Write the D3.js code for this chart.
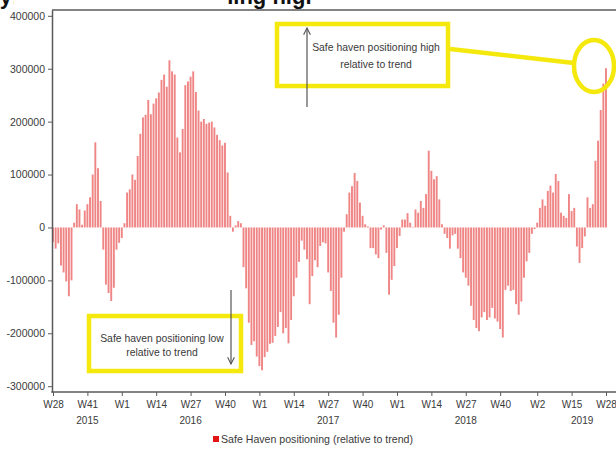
<!DOCTYPE html>
<html>
<head>
<meta charset="utf-8">
<script src="https://cdn.jsdelivr.net/npm/d3@7"></script>
<style>
  html, body { margin: 0; padding: 0; background: #fff; overflow: hidden; }
  svg { display: block; font-family: "Liberation Sans", Arial, sans-serif; }
</style>
</head>
<body>
<svg id="chart" width="616" height="450"></svg>
<script>
// weekly values, W28 2015 .. W28 2019
var values = [
  -28000, -40000, -30000, -72000, -85000, -102000, -130000, -100000,
  9000, 44000, 34000, 5000, 32000, 44000, 57000, 100000, 161000, 112000, 50000,
  -42000, -108000, -124000, -139000, -114000, -42000, -29000, -20000,
  8000, 66000, 72000, 100000, 90000, 135000, 177000, 208000, 213000, 241000,
  214000, 234000, 244000, 255000, 279000, 289000, 266000, 316000, 295000, 289000,
  170000, 142000, 186000, 269000, 276000, 285000, 295000, 256000, 221000, 200000,
  205000, 196000, 198000, 200000, 189000, 175000, 165000, 155000, 160000, 104000, 22000,
  -8000, 4000, 12000, 8000,
  -75000, -115000, -180000, -222000, -215000, -244000, -262000, -270000, -245000, -235000,
  -220000, -218000, -205000, -188000, -160000, -200000, -190000, -219000, -175000, -130000,
  -95000, -65000, -25000, -42000, -60000, -145000, -92000, -62000, -75000, -35000,
  -28000, -30000, -85000, -120000, -180000, -208000, -165000, -95000, -8000,
  25000, 66000, 78000, 103000, 88000, 47000, 22000, 6000, 2000,
  -39000, -39000, -51000, -58000, -4000, 4000, -48000, -127000, -99000, -73000, -39000, -16000,
  15000, 15000, 27000, 9000, 1000, 34000, 28000, 50000, 37000, 63000, 145000, 107000,
  91000, 97000, 53000, 6000,
  -12000, -20000, -40000, -15000, -12000, -40000, -58000, -85000, -95000, -110000,
  -148000, -175000, -190000, -196000, -170000, -160000, -175000, -170000, -152000, -172000,
  -178000, -192000, -208000, -118000, -110000, -120000, -118000, -145000, -165000, -140000,
  -95000, -64000, -48000, -12000, -3000,
  9000, 37000, 53000, 41000, 69000, 79000, 66000, 101000, 88000, 28000, 22000, 18000,
  63000, 31000, 37000, -36000, -67000, -39000, -17000, 57000, 37000, 44000, 126000,
  164000, 222000, 272000, 301000
];
var tickIdx = [0, 13, 26, 39, 52, 65, 78, 91, 104, 117, 130, 143, 156, 169, 183, 196, 209];
var tickLabels = ["W28", "W41", "W1", "W14", "W27", "W40", "W1", "W14", "W27", "W40",
                  "W1", "W14", "W27", "W40", "W2", "W15", "W28"];
var yearIdx = [13, 52, 104, 156, 200];
var yearLabels = ["2015", "2016", "2017", "2018", "2019"];
var yTicks = [400000, 300000, 200000, 100000, 0, -100000, -200000, -300000];
var seriesName = "Safe Haven positioning (relative to trend)";
var noteHigh = ["Safe haven positioning high", "relative to trend"];
var noteLow = ["Safe haven positioning low", "relative to trend"];
var titleText = "Safety: Safe haven positioning high";

var svg = d3.select("#chart");
var yellow = "#f4e80c", axisCol = "#5a5a5a", textCol = "#3a3a3a";

var x = d3.scaleLinear().domain([0, 209]).range([53, 606]);
var y = d3.scaleLinear().domain([-311000, 411000]).range([392, 10]);

// title sits above the crop, only parts of it show
var defs = svg.append("defs");
var clip = defs.append("clipPath").attr("id", "titleclip");
clip.append("rect").attr("x", 0).attr("y", 0).attr("width", 14).attr("height", 12);
clip.append("rect").attr("x", 227).attr("y", 0).attr("width", 86).attr("height", 12);
svg.append("text").attr("x", -54).attr("y", 4).attr("clip-path", "url(#titleclip)")
   .style("font-size", "22px").style("font-weight", "bold").attr("fill", "#111")
   .text(titleText);

// bars
svg.append("g").selectAll("rect").data(values).enter().append("rect")
   .attr("x", function (d, i) { return x(i) - 0.95; })
   .attr("width", 1.9)
   .attr("y", function (d) { return d >= 0 ? y(d) : y(0); })
   .attr("height", function (d) { return Math.abs(y(d) - y(0)); })
   .attr("fill", "#ef8585");

// frame lines
svg.append("line").attr("x1", 52).attr("x2", 616).attr("y1", 10).attr("y2", 10)
   .attr("stroke", axisCol).attr("stroke-width", 1.5);

var yAxis = d3.axisLeft(y).tickValues(yTicks).tickSize(4).tickSizeOuter(0).tickPadding(3)
   .tickFormat(function (d) { return String(d); });
var gy = svg.append("g").attr("transform", "translate(52,0)").call(yAxis);
gy.select(".domain").attr("stroke", axisCol).attr("stroke-width", 1.5);
gy.selectAll(".tick line").attr("stroke", axisCol);
gy.selectAll(".tick text").attr("fill", textCol).style("font-size", "10.5px")
   .style("font-family", "Liberation Sans, Arial, sans-serif");

var xAxis = d3.axisBottom(x).tickValues(tickIdx).tickSize(4).tickSizeOuter(0).tickPadding(5)
   .tickFormat(function (d, i) { return tickLabels[i]; });
var gx = svg.append("g").attr("transform", "translate(0,392)").call(xAxis);
gx.select(".domain").remove();
gx.selectAll(".tick line").attr("stroke", axisCol);
gx.selectAll(".tick text").attr("fill", textCol).style("font-size", "10px")
   .style("font-family", "Liberation Sans, Arial, sans-serif");
svg.append("line").attr("x1", 51.25).attr("x2", 616).attr("y1", 392).attr("y2", 392)
   .attr("stroke", axisCol).attr("stroke-width", 1.5);

svg.append("g").selectAll("text").data(yearLabels).enter().append("text")
   .attr("x", function (d, i) { return x(yearIdx[i]); })
   .attr("y", 424).attr("text-anchor", "middle")
   .attr("fill", textCol).style("font-size", "10px").text(function (d) { return d; });

// legend
svg.append("rect").attr("x", 213).attr("y", 436).attr("width", 6).attr("height", 6).attr("fill", "#e31414");
svg.append("text").attr("x", 221).attr("y", 443).attr("fill", textCol)
   .style("font-size", "10.6px").text(seriesName);

// annotations
defs.append("marker").attr("id", "head").attr("viewBox", "0 0 10 10")
   .attr("refX", 9).attr("refY", 5).attr("markerWidth", 7).attr("markerHeight", 7)
   .attr("orient", "auto-start-reverse")
   .append("path").attr("d", "M1,1 L9,5 L1,9").attr("fill", "none").attr("stroke", "#555").attr("stroke-width", 1.3);

function note(box, lines, cx, ty, gap) {
    svg.append("rect").attr("x", box[0]).attr("y", box[1]).attr("width", box[2]).attr("height", box[3])
       .attr("fill", "#fff").attr("stroke", yellow).attr("stroke-width", 4.5);
    svg.append("text").attr("text-anchor", "middle").attr("fill", textCol).style("font-size", "10.4px")
       .selectAll("tspan").data(lines).enter().append("tspan")
       .attr("x", cx).attr("y", function (d, i) { return ty + i * gap; })
       .text(function (d) { return d; });
}
note([277, 24, 171, 62], noteHigh, 376, 51, 17);
note([89, 316, 152, 55], noteLow, 162, 342, 13.5);

svg.append("line").attr("x1", 307).attr("x2", 307).attr("y1", 107).attr("y2", 28)
   .attr("stroke", "#555").attr("stroke-width", 1.2).attr("marker-end", "url(#head)");
svg.append("line").attr("x1", 231).attr("x2", 231).attr("y1", 290).attr("y2", 364)
   .attr("stroke", "#555").attr("stroke-width", 1.2).attr("marker-end", "url(#head)");

svg.append("line").attr("x1", 450).attr("y1", 49).attr("x2", 574).attr("y2", 63)
   .attr("stroke", yellow).attr("stroke-width", 4.5);
svg.append("ellipse").attr("cx", 594).attr("cy", 66).attr("rx", 20).attr("ry", 26)
   .attr("fill", "none").attr("stroke", yellow).attr("stroke-width", 4.5);
</script>
</body>
</html>
